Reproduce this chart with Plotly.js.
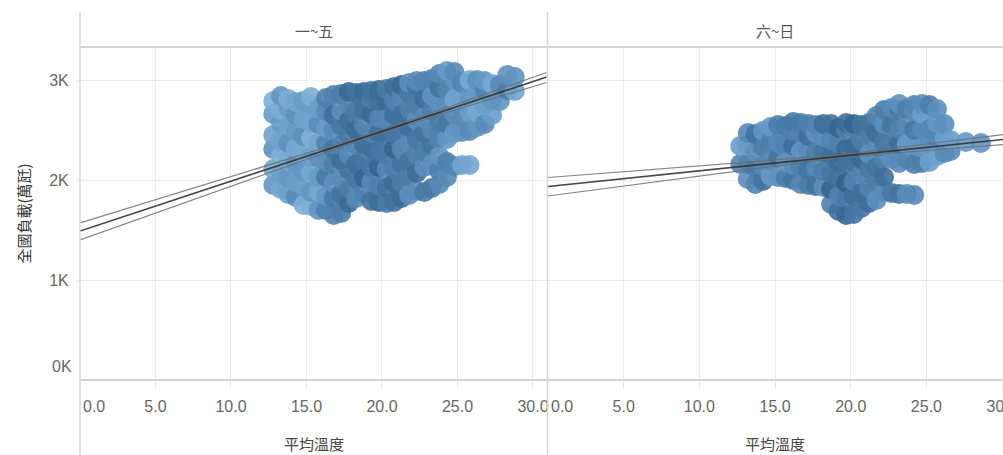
<!DOCTYPE html>
<html>
<head>
<meta charset="utf-8">
<script src="https://cdn.plot.ly/plotly-3.0.1.min.js"></script>
<style>html,body{margin:0;padding:0;background:#fff;}#chart{width:1003px;height:455px;}</style>
</head>
<body>
<div id="chart"></div>
<script>
// ---- Data ----
const panelNames = ['一~五', '六~日'];
const xTickVals = [5, 10, 15, 20, 25, 30];
const xTickText = ['5.0', '10.0', '15.0', '20.0', '25.0', '30.0'];
const yTickVals = [1000, 2000, 3000];
const yTickText = ['1K', '2K', '3K'];

// Weekday (一~五): temperature columns and loads in each column
const wkTemp = [12.8, 13.3, 13.8, 14.3, 14.8, 15.3, 15.8, 16.3, 16.8, 17.3, 17.8, 18.3, 18.8, 19.3, 19.8, 20.3, 20.8, 21.3, 21.8, 22.3, 22.8, 23.3, 23.8, 24.3, 24.8, 25.3, 25.8, 26.3, 26.8, 27.3, 27.8, 28.3, 28.8];
const wkLoad = [
  [1950, 2110, 2310, 2450, 2660, 2790],
  [1910, 2050, 2240, 2390, 2570, 2700, 2840],
  [1860, 2030, 2190, 2370, 2540, 2720, 2810],
  [1830, 1980, 2170, 2320, 2490, 2650, 2780],
  [1750, 1940, 2090, 2290, 2440, 2610, 2790],
  [1740, 1880, 2070, 2230, 2420, 2570, 2750, 2830],
  [1700, 1880, 2030, 2220, 2370, 2560, 2710],
  [1700, 1840, 2030, 2180, 2370, 2520, 2690, 2820],
  [1650, 1820, 1970, 2160, 2310, 2500, 2650, 2850],
  [1670, 1860, 2010, 2200, 2350, 2540, 2690, 2860],
  [1770, 1910, 2100, 2250, 2440, 2590, 2760, 2880],
  [1820, 2010, 2160, 2350, 2500, 2690, 2870],
  [1870, 2020, 2210, 2360, 2550, 2700, 2880],
  [1790, 1980, 2130, 2320, 2470, 2660, 2810, 2890],
  [1780, 1940, 2130, 2280, 2470, 2620, 2790, 2900],
  [1770, 1920, 2110, 2260, 2450, 2600, 2790, 2910],
  [1780, 1970, 2120, 2310, 2460, 2650, 2800, 2930],
  [1820, 1970, 2160, 2310, 2500, 2650, 2840, 2950],
  [1850, 2040, 2190, 2380, 2530, 2720, 2870, 2970],
  [1890, 2070, 2260, 2410, 2600, 2750, 2930, 2990],
  [1880, 2130, 2280, 2470, 2620, 2810, 2990],
  [1920, 2160, 2350, 2500, 2690, 2840, 3010],
  [1960, 2090, 2240, 2430, 2580, 2770, 2920, 3060],
  [2030, 2180, 2410, 2560, 2750, 2900, 3090],
  [2140, 2470, 2660, 2810, 3000, 3080],
  [2150, 2480, 2630, 2820, 2970],
  [2150, 2490, 2680, 2830, 3000],
  [2530, 2680, 2870, 3000],
  [2560, 2750, 2900, 2990],
  [2650, 2800, 2960],
  [2790, 2950],
  [2900, 3050],
  [2890, 3030]
];
const wkShade = [0.3, 0.25, 0.3, 0.35, 0.3, 0.25, 0.35, 0.5, 0.6, 0.6, 0.65, 0.65, 0.7, 0.65, 0.7, 0.65, 0.7, 0.65, 0.6, 0.6, 0.6, 0.55, 0.55, 0.5, 0.4, 0.4, 0.35, 0.35, 0.4, 0.35, 0.4, 0.45, 0.4];

// Weekend (六~日)
const weTemp = [12.7, 13.2, 13.7, 14.2, 14.7, 15.2, 15.7, 16.2, 16.7, 17.2, 17.7, 18.2, 18.7, 19.2, 19.7, 20.2, 20.7, 21.2, 21.7, 22.2, 22.7, 23.2, 23.7, 24.2, 24.7, 25.2, 25.7, 26.2, 26.6, 27.6, 28.6];
const weLoad = [
  [2160, 2340],
  [2010, 2160, 2350, 2470],
  [1960, 2130, 2280, 2460],
  [1990, 2140, 2330, 2490],
  [2040, 2190, 2380, 2530],
  [2030, 2220, 2370, 2550],
  [2020, 2180, 2370, 2540],
  [2000, 2150, 2340, 2490, 2580],
  [1960, 2140, 2290, 2480, 2570],
  [1950, 2100, 2290, 2440, 2560],
  [1940, 2130, 2280, 2470, 2550],
  [1930, 2090, 2280, 2430, 2560],
  [1760, 1910, 2060, 2250, 2400, 2560],
  [1690, 1840, 2030, 2180, 2370, 2520],
  [1650, 1820, 1970, 2160, 2310, 2500, 2570],
  [1660, 1840, 1990, 2180, 2330, 2520, 2560],
  [1720, 1870, 2060, 2210, 2400, 2550],
  [1770, 1920, 2110, 2260, 2450, 2570],
  [1800, 1980, 2130, 2320, 2470, 2640],
  [1880, 2030, 2220, 2370, 2560, 2700],
  [1870, 2210, 2360, 2550, 2720],
  [1860, 2170, 2360, 2510, 2700, 2760],
  [1860, 2210, 2360, 2550, 2710],
  [1850, 2160, 2350, 2500, 2690, 2750],
  [2170, 2320, 2510, 2660, 2760],
  [2180, 2360, 2510, 2700, 2750],
  [2240, 2420, 2570, 2710],
  [2270, 2420, 2560],
  [2290, 2400],
  [2380],
  [2370]
];
const weShade = [0.45, 0.5, 0.55, 0.55, 0.5, 0.55, 0.55, 0.6, 0.55, 0.6, 0.55, 0.6, 0.7, 0.7, 0.75, 0.7, 0.65, 0.6, 0.6, 0.6, 0.6, 0.6, 0.5, 0.5, 0.45, 0.45, 0.4, 0.45, 0.4, 0.4, 0.4];

// Trend lines with confidence bands
const wkTrendX = [0, 10, 19, 25, 30.9];
const wkTrendMid = [1490, 1988, 2436, 2735, 3029];
const wkTrendUp = [1570, 2035, 2452, 2760, 3075];
const wkTrendLo = [1400, 1938, 2420, 2708, 2975];
const weTrendX = [0, 10, 19.5, 25, 30.1];
const weTrendMid = [1935, 2092, 2241, 2328, 2406];
const weTrendUp = [2025, 2140, 2253, 2360, 2455];
const weTrendLo = [1840, 2040, 2229, 2295, 2355];

// ---- Build traces ----
const shadeJitter = [0.08, -0.12, 0.14, -0.04, 0.04, -0.16, 0.0];
function flatten(temps, loads, shades) {
  const x = [], y = [], c = [];
  temps.forEach((t, i) => {
    loads[i].forEach((v, j) => {
      x.push(t); y.push(v);
      let s = shades[i] + shadeJitter[(i * 3 + j) % shadeJitter.length];
      c.push(Math.max(0, Math.min(1, s)));
    });
  });
  return {x, y, c};
}
const wk = flatten(wkTemp, wkLoad, wkShade);
const we = flatten(weTemp, weLoad, weShade);

const scale = [[0, '#8bbbdf'], [0.35, '#6599c7'], [0.7, '#41729f'], [1, '#2a5580']];
function pts(d, xa, ya) {
  return {type: 'scatter', mode: 'markers', x: d.x, y: d.y, xaxis: xa, yaxis: ya,
    hoverinfo: 'x+y', showlegend: false,
    marker: {size: 20, color: d.c, colorscale: scale, cmin: 0, cmax: 1, opacity: 0.9, line: {width: 0}}};
}
function line(x, y, xa, ya, col, w) {
  return {type: 'scatter', mode: 'lines', x: x, y: y, xaxis: xa, yaxis: ya, showlegend: false,
    hoverinfo: 'skip', line: {color: col, width: w}};
}
const data = [
  pts(wk, 'x', 'y'),
  pts(we, 'x2', 'y2'),
  line(wkTrendX, wkTrendUp, 'x', 'y', 'rgba(110,110,110,0.85)', 1.2),
  line(wkTrendX, wkTrendLo, 'x', 'y', 'rgba(110,110,110,0.85)', 1.2),
  line(wkTrendX, wkTrendMid, 'x', 'y', 'rgba(50,50,50,0.9)', 1.6),
  line(weTrendX, weTrendUp, 'x2', 'y2', 'rgba(110,110,110,0.85)', 1.2),
  line(weTrendX, weTrendLo, 'x2', 'y2', 'rgba(110,110,110,0.85)', 1.2),
  line(weTrendX, weTrendMid, 'x2', 'y2', 'rgba(50,50,50,0.9)', 1.6)
];

const tickFont = {family: '"Liberation Sans Narrow", "Liberation Sans", Arial, sans-serif', size: 16, color: '#666'};
const cjk = '"Noto Sans CJK TC", "Noto Sans CJK SC", sans-serif';
const xCommon = {
  tickvals: xTickVals, ticktext: xTickText, showgrid: true, gridcolor: '#ececec', gridwidth: 1,
  zeroline: false, showline: false, ticks: 'outside', ticklen: 8, tickcolor: '#ececec',
  ticklabelstandoff: 4, ticklabeloverflow: 'allow', tickfont: tickFont, fixedrange: true
};
const yCommon = {
  range: [0, 3330], tickvals: yTickVals, ticktext: yTickText, showgrid: true, gridcolor: '#ececec',
  zeroline: false, showline: false, ticks: 'outside', ticklen: 3, tickcolor: '#ececec',
  tickfont: tickFont, fixedrange: true
};
const split = 467 / 923;
const layout = {
  width: 1003, height: 455,
  margin: {l: 80, r: 0, t: 47, b: 75},
  paper_bgcolor: '#fff', plot_bgcolor: '#fff',
  xaxis: Object.assign({}, xCommon, {domain: [0, split], range: [0, 30.93], anchor: 'y'}),
  xaxis2: Object.assign({}, xCommon, {domain: [split + 1 / 923, 1], range: [0, 30.06], anchor: 'y2'}),
  yaxis: Object.assign({}, yCommon, {anchor: 'x', ticklabelstandoff: 4}),
  yaxis2: Object.assign({}, yCommon, {anchor: 'x2', matches: 'y', showticklabels: false, ticks: ''}),
  shapes: [
    {type: 'line', xref: 'paper', yref: 'paper', x0: 0, x1: 1, y0: 1, y1: 1, line: {color: '#d3d3d3', width: 2}},
    {type: 'line', xref: 'paper', yref: 'paper', x0: 0, x1: 1, y0: 0, y1: 0, line: {color: '#d3d3d3', width: 2}},
    {type: 'line', xref: 'paper', yref: 'paper', x0: 0, x1: 0, y0: -0.23, y1: 1.105, line: {color: '#d6d6d6', width: 1.5}},
    {type: 'line', xref: 'paper', yref: 'paper', x0: split + 0.5 / 923, x1: split + 0.5 / 923, y0: -0.23, y1: 1.105, line: {color: '#d6d6d6', width: 1.5}}
  ],
  annotations: [
    {text: panelNames[0], xref: 'paper', yref: 'paper', x: split / 2, y: 1.051, showarrow: false,
      xanchor: 'center', yanchor: 'middle', font: {family: cjk, size: 15, color: '#555'}},
    {text: panelNames[1], xref: 'paper', yref: 'paper', x: (split + 1) / 2, y: 1.051, showarrow: false,
      xanchor: 'center', yanchor: 'middle', font: {family: cjk, size: 15, color: '#555'}},
    {text: '平均溫度', xref: 'paper', yref: 'paper', x: split / 2, y: -0.192, showarrow: false,
      xanchor: 'center', yanchor: 'middle', font: {family: cjk, size: 15, color: '#444'}},
    {text: '平均溫度', xref: 'paper', yref: 'paper', x: (split + 1) / 2, y: -0.192, showarrow: false,
      xanchor: 'center', yanchor: 'middle', font: {family: cjk, size: 15, color: '#444'}},
    {text: '全國負載(萬瓩)', xref: 'paper', yref: 'paper', x: 0, xshift: -57, y: 0.5, textangle: -90,
      showarrow: false, xanchor: 'center', yanchor: 'middle', font: {family: cjk, size: 15, color: '#333'}},
    {text: '0K', xref: 'paper', yref: 'y', x: 0, xshift: -6, y: 140, showarrow: false,
      xanchor: 'right', yanchor: 'middle', font: tickFont},
    {text: '0.0', xref: 'x', yref: 'paper', x: 0, xshift: 1, y: 0, yshift: -26, showarrow: false,
      xanchor: 'left', yanchor: 'middle', font: tickFont},
    {text: '0.0', xref: 'x2', yref: 'paper', x: 0, xshift: 1, y: 0, yshift: -26, showarrow: false,
      xanchor: 'left', yanchor: 'middle', font: tickFont}
  ]
};
Plotly.newPlot('chart', data, layout, {displayModeBar: false, staticPlot: true});
</script>
</body>
</html>
